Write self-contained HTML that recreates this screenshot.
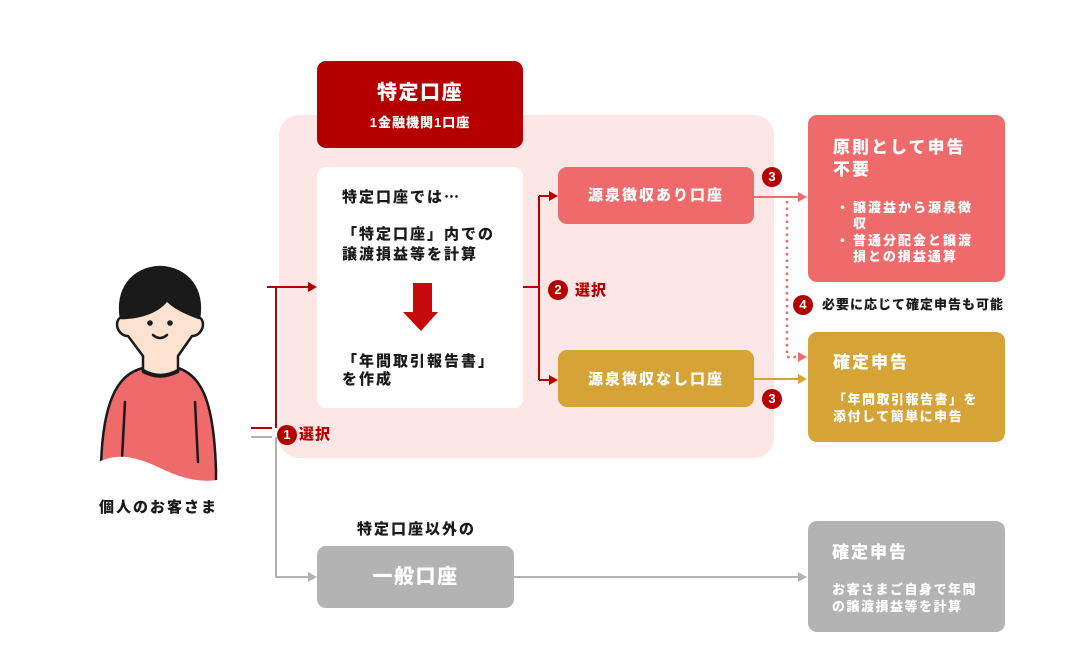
<!DOCTYPE html>
<html><head><meta charset="utf-8">
<style>
html,body{margin:0;padding:0;background:#fff;}
body{width:1080px;height:657px;position:relative;overflow:hidden;font-family:"Liberation Sans","Noto Sans CJK JP",sans-serif;font-weight:900;}
.b{position:absolute;}
.t{position:absolute;white-space:nowrap;height:20px;line-height:20px;font-weight:900;}
.w{color:#fff;}
.k{color:#1a1a1a;}
.badge{position:absolute;width:20px;height:20px;border-radius:50%;background:#b40000;color:#fff;font-size:13px;line-height:20px;text-align:center;font-weight:700;font-family:"Liberation Sans",sans-serif;}
.cj{font-family:"Noto Sans CJK JP",sans-serif;}
</style></head><body>

<div class="b" style="left:279px;top:115px;width:495px;height:343px;background:#fde6e6;border-radius:20px;"></div>
<div class="b" style="left:317px;top:61px;width:206px;height:87px;background:#b40000;border-radius:9px;"></div>
<div class="b" style="left:317px;top:167px;width:206px;height:241px;background:#fff;border-radius:9px;"></div>
<div class="b" style="left:558px;top:167px;width:196px;height:57px;background:#ef6b6b;border-radius:9px;"></div>
<div class="b" style="left:558px;top:350px;width:196px;height:57px;background:#d6a337;border-radius:9px;"></div>
<div class="b" style="left:808px;top:115px;width:197px;height:167px;background:#ef6b6b;border-radius:9px;"></div>
<div class="b" style="left:808px;top:332px;width:197px;height:110px;background:#d6a337;border-radius:9px;"></div>
<div class="b" style="left:317px;top:546px;width:197px;height:62px;background:#b3b3b3;border-radius:9px;"></div>
<div class="b" style="left:808px;top:521px;width:197px;height:111px;background:#b3b3b3;border-radius:9px;"></div>

<svg class="b" style="left:0;top:0" width="1080" height="657" viewBox="0 0 1080 657">
 <g stroke-width="2" fill="none">
  <path d="M267 287H310M276 287V428M251 428H272" stroke="#b40000"/>
  <path d="M251 437H272M276 437V577H310M514 577H800" stroke="#b3b3b3"/>
  <path d="M523 287H539M539 196V380M539 196H551M539 380H551" stroke="#b40000"/>
  <path d="M754 197H800" stroke="#ef6b6b"/>
  <path d="M787 201V357H800" stroke="#ef6b6b" stroke-width="2.5" stroke-dasharray="2.5 4"/>
  <path d="M754 379H800" stroke="#d6a337"/>
 </g>
 <polygon points="308,282 317,287 308,292" fill="#b40000"/>
 <polygon points="549,191 558,196 549,201" fill="#b40000"/>
 <polygon points="549,375 558,380 549,385" fill="#b40000"/>
 <polygon points="308,572 317,577 308,582" fill="#b3b3b3"/>
 <polygon points="798,572 807,577 798,582" fill="#b3b3b3"/>
 <polygon points="798,192 807,197 798,202" fill="#ef6b6b"/>
 <polygon points="798,352 807,357 798,362" fill="#ef6b6b"/>
 <polygon points="798,374 807,379 798,384" fill="#d6a337"/>
 <!-- down arrow -->
 <polygon points="413,283 432,283 432,312 438,312 421,331 403,312 413,312" fill="#c40a0a"/>
 <!-- person -->
 <g stroke="#1a1a1a" stroke-width="2.5" stroke-linejoin="round" stroke-linecap="round">
  <path d="M143 368 C118 374 103 400 101 465 L101 470 L216 485 L216 470 C214 405 203 376 178 368 Z" fill="#ef6b6b"/>
  <path d="M143 372 V356 L128 336 C118 336 113 322 121 317 L125 316 C125 300 140 288 160 288 C180 288 195 300 195 316 L199 317 C207 322 202 336 192 336 L178 356 V372 C165 378 155 378 143 372 Z" fill="#fde2d0"/>
  <path d="M121 318 C116 290 132 268 160 267 C188 268 204 290 199 318 C188 314 174 308 167 300 C158 312 140 318 121 318 Z" fill="#1a1a1a"/>
  <path d="M143 370 Q160 380 178 370" fill="none"/>
  <path d="M125 402 L122 458" fill="none"/>
  <path d="M195 402 L198 462" fill="none"/>
  <path d="M153 335 Q160 341 167 335" fill="none"/>
 </g>
 <circle cx="150" cy="323" r="2.8" fill="#1a1a1a"/>
 <circle cx="170" cy="323" r="2.8" fill="#1a1a1a"/>
 <path d="M95 464 C115 452 135 456 160 468 C185 480 205 484 225 478 L225 500 L95 500 Z" fill="#fff"/>
</svg>

<div class="badge" style="left:277px;top:425px;">1</div>
<div class="badge" style="left:548px;top:280px;">2</div>
<div class="badge" style="left:762px;top:167px;">3</div>
<div class="badge" style="left:762px;top:389px;">3</div>
<div class="badge" style="left:793px;top:295px;">4</div>

<div class="t w" style="left:317px;width:206px;text-align:center;top:83px;font-size:20px;letter-spacing:1.5px;">特定口座</div>
<div class="t w" style="left:317px;width:206px;text-align:center;top:113px;font-size:13px;letter-spacing:1px;">1金融機関1口座</div>

<div class="t k" style="left:342px;top:187px;font-size:15px;letter-spacing:2px;">特定口座では<span class="cj">…</span></div>
<div class="t k" style="left:342px;top:225px;font-size:15px;letter-spacing:2px;">「特定口座」内での</div>
<div class="t k" style="left:342px;top:245px;font-size:15px;letter-spacing:2px;">譲渡損益等を計算</div>
<div class="t k" style="left:342px;top:352px;font-size:15px;letter-spacing:2px;">「年間取引報告書」</div>
<div class="t k" style="left:342px;top:370px;font-size:15px;letter-spacing:2px;">を作成</div>

<div class="t w" style="left:558px;width:196px;text-align:center;top:186px;font-size:15px;letter-spacing:2px;">源泉徴収あり口座</div>
<div class="t w" style="left:558px;width:196px;text-align:center;top:370px;font-size:15px;letter-spacing:2px;">源泉徴収なし口座</div>

<div class="t" style="left:575px;top:281px;font-size:15px;letter-spacing:1px;color:#b40000;">選択</div>
<div class="t" style="left:299px;top:425px;font-size:15px;letter-spacing:1px;color:#b40000;">選択</div>

<div class="t w" style="left:833px;top:138px;font-size:17px;letter-spacing:2px;">原則として申告</div>
<div class="t w" style="left:833px;top:160px;font-size:17px;letter-spacing:2px;">不要</div>
<div class="t w" style="left:836px;top:198px;font-size:13px;">・</div>
<div class="t w" style="left:853px;top:198px;font-size:13px;letter-spacing:2px;">譲渡益から源泉徴</div>
<div class="t w" style="left:853px;top:214px;font-size:13px;letter-spacing:2px;">収</div>
<div class="t w" style="left:836px;top:231px;font-size:13px;">・</div>
<div class="t w" style="left:853px;top:231px;font-size:13px;letter-spacing:2px;">普通分配金と譲渡</div>
<div class="t w" style="left:853px;top:247px;font-size:13px;letter-spacing:2px;">損との損益通算</div>

<div class="t k" style="left:822px;top:295px;font-size:13px;letter-spacing:1px;">必要に応じて確定申告も可能</div>

<div class="t w" style="left:833px;top:353px;font-size:17px;letter-spacing:2px;">確定申告</div>
<div class="t w" style="left:833px;top:390px;font-size:13px;letter-spacing:1.5px;">「年間取引報告書」を</div>
<div class="t w" style="left:833px;top:407px;font-size:13px;letter-spacing:1.5px;">添付して簡単に申告</div>

<div class="t k" style="left:357px;top:520px;font-size:15px;letter-spacing:2px;">特定口座以外の</div>
<div class="t w" style="left:317px;width:197px;text-align:center;top:567px;font-size:20px;letter-spacing:1.5px;">一般口座</div>

<div class="t w" style="left:832px;top:543px;font-size:17px;letter-spacing:2px;">確定申告</div>
<div class="t w" style="left:832px;top:580px;font-size:13px;letter-spacing:1.5px;">お客さまご自身で年間</div>
<div class="t w" style="left:832px;top:597px;font-size:13px;letter-spacing:1.5px;">の譲渡損益等を計算</div>

<div class="t k" style="left:99px;top:498px;font-size:15px;letter-spacing:2px;">個人のお客さま</div>

</body></html>
